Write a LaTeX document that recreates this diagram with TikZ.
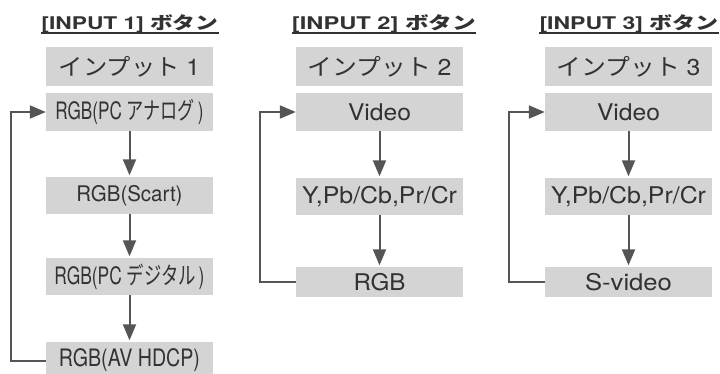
\documentclass[tikz,border=0pt]{standalone}
\usepackage{fontspec}
\usepackage{graphicx}
\setmainfont{TeX Gyre Heros}
\newfontfamily\jp{Noto Sans CJK JP}
\usetikzlibrary{arrows.meta}
\definecolor{boxgray}{RGB}{212,212,212}
\definecolor{txt}{RGB}{50,50,50}
\definecolor{arr}{RGB}{85,85,85}
\newcommand\fitw[2]{\resizebox{#1}{\height}{#2}}
\begin{document}
\begin{tikzpicture}[x=1pt,y=-1pt,
  box/.style={fill=boxgray, minimum width=167pt, inner sep=0pt, text=txt,
    font=\fontsize{23}{23}\selectfont},
  title/.style={anchor=base, inner sep=0pt, text=txt,
    font=\fontsize{17.5}{17.5}\selectfont\bfseries},
  uline/.style={draw=txt, line width=1.3pt},
  flow/.style={draw=arr, line width=2pt, shorten >=1.5pt,
    -{Triangle[length=16pt,width=13pt]}},
  loopline/.style={draw=arr, line width=2pt,
    -{Triangle[length=16pt,width=13pt]}}]
\useasboundingbox (0,0) rectangle (720,373);

% titles
\node[title] (t1) at (130,29.3) {\fitw{177pt}{[INPUT 1] {\jp ボタン}}};
\node[title] (t2) at (384,29.3) {\fitw{184pt}{[INPUT 2] {\jp ボタン}}};
\node[title] (t3) at (629,29.3) {\fitw{179pt}{[INPUT 3] {\jp ボタン}}};
\draw[uline] (t1.south west) -- (t1.south east);
\draw[uline] (t2.south west) -- (t2.south east);
\draw[uline] (t3.south west) -- (t3.south east);

% column 1
\node[box, minimum height=39pt] (k1) at (129.5,66.5) {\fitw{141pt}{{\jp インプット} 1}};
\node[box, minimum height=38pt, font=\fontsize{24}{24}\selectfont] (a1) at (129.5,112) {\fitw{148pt}{RGB(PC {\jp アナログ}\,)}};
\node[box, minimum height=37pt, font=\fontsize{21.5}{21.5}\selectfont] (b1) at (129.5,195.5) {\fitw{106pt}{RGB(Scart)}};
\node[box, minimum height=37pt, font=\fontsize{24}{24}\selectfont] (c1) at (129.5,276.5) {\fitw{150pt}{RGB(PC {\jp デジタル}\,)}};
\node[box, minimum height=37pt, font=\fontsize{24}{24}\selectfont] (d1) at (129.5,360.5) {\fitw{141pt}{RGB(AV HDCP)}};
\draw[flow] (a1.south) -- (b1.north);
\draw[flow] (b1.south) -- (c1.north);
\draw[flow] (c1.south) -- (d1.north);
\coordinate (l1) at (11,360.5);
\draw[loopline] (d1.west) -- (l1) |- (a1.west);

% column 2
\node[box, minimum height=39pt] (k2) at (379.5,66.5) {\fitw{144pt}{{\jp インプット} 2}};
\node[box, minimum height=38pt] (a2) at (379.5,112) {\fitw{63pt}{Video}};
\node[box, minimum height=37pt] (b2) at (379.5,196.5) {\fitw{155pt}{Y,Pb/Cb,Pr/Cr}};
\node[box, minimum height=30pt] (c2) at (379.5,282) {\fitw{52pt}{RGB}};
\draw[flow] (a2.south) -- (b2.north);
\draw[flow] (b2.south) -- (c2.north);
\coordinate (l2) at (260,282);
\draw[loopline] (c2.west) -- (l2) |- (a2.west);

% column 3
\node[box, minimum height=39pt] (k3) at (628.5,66.5) {\fitw{144pt}{{\jp インプット} 3}};
\node[box, minimum height=38pt] (a3) at (628.5,112) {\fitw{63pt}{Video}};
\node[box, minimum height=37pt] (b3) at (628.5,196.5) {\fitw{155pt}{Y,Pb/Cb,Pr/Cr}};
\node[box, minimum height=30pt] (c3) at (628.5,282) {\fitw{87pt}{S-video}};
\draw[flow] (a3.south) -- (b3.north);
\draw[flow] (b3.south) -- (c3.north);
\coordinate (l3) at (509,282);
\draw[loopline] (c3.west) -- (l3) |- (a3.west);
\end{tikzpicture}
\end{document}
